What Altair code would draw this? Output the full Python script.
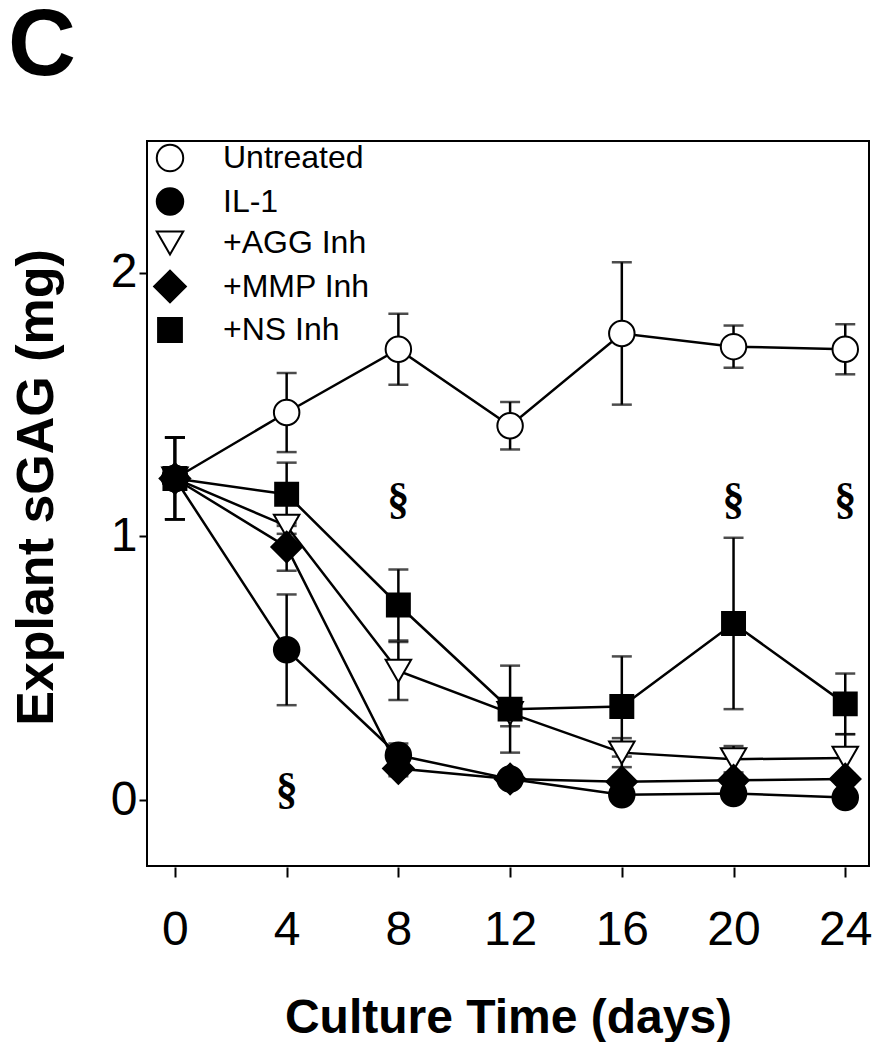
import altair as alt
import pandas as pd

# ---- data ----
days = [0, 4, 8, 12, 16, 20, 24]
groups = ["Untreated", "IL-1", "+AGG Inh", "+MMP Inh", "+NS Inh"]

untreated_mean = [1.22, 1.47, 1.71, 1.42, 1.77, 1.72, 1.71]
untreated_se = [0.155, 0.15, 0.135, 0.09, 0.27, 0.08, 0.095]
il1_mean = [1.22, 0.57, 0.17, 0.08, 0.02, 0.025, 0.01]
il1_se = [0.155, 0.21, 0.045, 0.02, 0.02, 0.02, 0.02]
agg_mean = [1.22, 1.04, 0.49, 0.33, 0.18, 0.155, 0.16]
agg_se = [0.155, 0.03, 0.11, 0.05, 0.055, 0.05, 0.09]
mmp_mean = [1.22, 0.96, 0.12, 0.08, 0.07, 0.075, 0.08]
mmp_se = [0.155, 0.09, 0.03, 0.02, 0.02, 0.02, 0.02]
ns_mean = [1.22, 1.16, 0.74, 0.345, 0.355, 0.67, 0.365]
ns_se = [0.155, 0.12, 0.135, 0.165, 0.19, 0.325, 0.115]

DIAMOND = "M-1.2,0L0,-1.2L1.2,0L0,1.2Z"
SQUARE = "M-0.9,-0.9L0.9,-0.9L0.9,0.9L-0.9,0.9Z"
shapes = ["circle", "circle", "triangle-down", DIAMOND, SQUARE]
fills = ["white", "black", "white", "black", "black"]
strokes = ["black", "black", "black", "black", "black"]

sig_days = [4, 8, 20, 24]
sig_values = [0.04, 1.14, 1.14, 1.14]
sig_labels = ["§", "§", "§", "§"]

x_ticks = [0, 4, 8, 12, 16, 20, 24]
y_ticks = [0, 1, 2]

# ---- tables ----
means = [untreated_mean, il1_mean, agg_mean, mmp_mean, ns_mean]
ses = [untreated_se, il1_se, agg_se, mmp_se, ns_se]
rows = []
for order, (g, m, s) in enumerate(zip(groups, means, ses)):
    for d, mv, sv in zip(days, m, s):
        rows.append({"group": g, "day": d, "mean": mv, "se": sv, "order": order})
df = pd.DataFrame(rows)
df["lo"] = df["mean"] - df["se"]
df["hi"] = df["mean"] + df["se"]
sig_df = pd.DataFrame({"day": sig_days, "value": sig_values, "label": sig_labels})

FONT = "Liberation Sans"
LW = 2.5

xscale = alt.Scale(domain=[-1, 24.85], nice=False, zero=False)
yscale = alt.Scale(domain=[-0.25, 2.5], nice=False, zero=False)

xaxis = alt.Axis(
    values=x_ticks, title="Culture Time (days)", grid=False, domain=False,
    offset=1, tickSize=10, tickWidth=2, tickColor="black",
    labelFont=FONT, labelFontSize=48, labelColor="black", labelPadding=29,
    labelFlush=False, labelOverlap=False,
    titleFont=FONT, titleFontSize=48, titleFontWeight="bold", titleColor="black",
    titleBaseline="top", titleY=127,
)
yaxis = alt.Axis(
    values=y_ticks, title="Explant sGAG (mg)", grid=False, domain=False,
    offset=1, tickSize=7, tickWidth=2, tickColor="black",
    labelFont=FONT, labelFontSize=48, labelColor="black", labelPadding=2,
    labelFlush=False, labelOverlap=False,
    titleFont=FONT, titleFontSize=52, titleFontWeight="bold", titleColor="black",
    titleAngle=270, titleBaseline="top", titleAlign="center", titleX=-135, titleY=346,
)


def X(field):
    return alt.X(field, type="quantitative", scale=xscale, axis=xaxis)


def Y(field):
    return alt.Y(field, type="quantitative", scale=yscale, axis=yaxis)


base = alt.Chart(df)

lines = base.mark_line(color="black", strokeWidth=LW).encode(
    x=X("day"), y=Y("mean"), detail="group:N", order="day:Q"
)

rules = base.mark_rule(color="black", strokeWidth=LW).encode(
    x=X("day"), y=Y("lo"), y2="hi"
)
caps_lo = base.mark_tick(color="black", orient="horizontal", size=20, thickness=LW).encode(
    x=X("day"), y=Y("lo")
)
caps_hi = base.mark_tick(color="black", orient="horizontal", size=20, thickness=LW).encode(
    x=X("day"), y=Y("hi")
)

legend = alt.Legend(
    title=None, orient="none", legendX=7, legendY=1, padding=0,
    symbolSize=700, symbolStrokeWidth=2, symbolStrokeColor="black", symbolOpacity=1,
    labelFont=FONT, labelFontSize=32, labelColor="black", labelOffset=37,
    rowPadding=7.5, labelLimit=400,
)

points = base.mark_point(
    filled=True, size=650, strokeWidth=2, opacity=1
).encode(
    x=X("day"),
    y=Y("mean"),
    shape=alt.Shape("group:N", scale=alt.Scale(domain=groups, range=shapes), legend=legend),
    fill=alt.Fill("group:N", scale=alt.Scale(domain=groups, range=fills), legend=legend),
    stroke=alt.Stroke("group:N", scale=alt.Scale(domain=groups, range=strokes), legend=legend),
    order=alt.Order("order:Q", sort="ascending"),
)

sig = alt.Chart(sig_df).mark_text(
    font="Liberation Serif", fontSize=44, fontWeight="bold", baseline="middle",
    align="center", color="black"
).encode(x=X("day"), y=Y("value"), text="label:N")

chart = alt.layer(lines, rules, caps_lo, caps_hi, points, sig).properties(
    width=722,
    height=725,
    padding={"left": 139, "top": 133, "right": 3, "bottom": 176},
    autosize="none",
    background="white",
    title=alt.TitleParams(
        "C", anchor="start", frame="group", font=FONT, fontSize=94, fontWeight="bold",
        color="black", baseline="bottom", offset=44, dx=-139, dy=92,
    ),
).configure_view(stroke="black", strokeWidth=2)

chart.save("out.html", embed_options={"renderer": "svg", "actions": False})
